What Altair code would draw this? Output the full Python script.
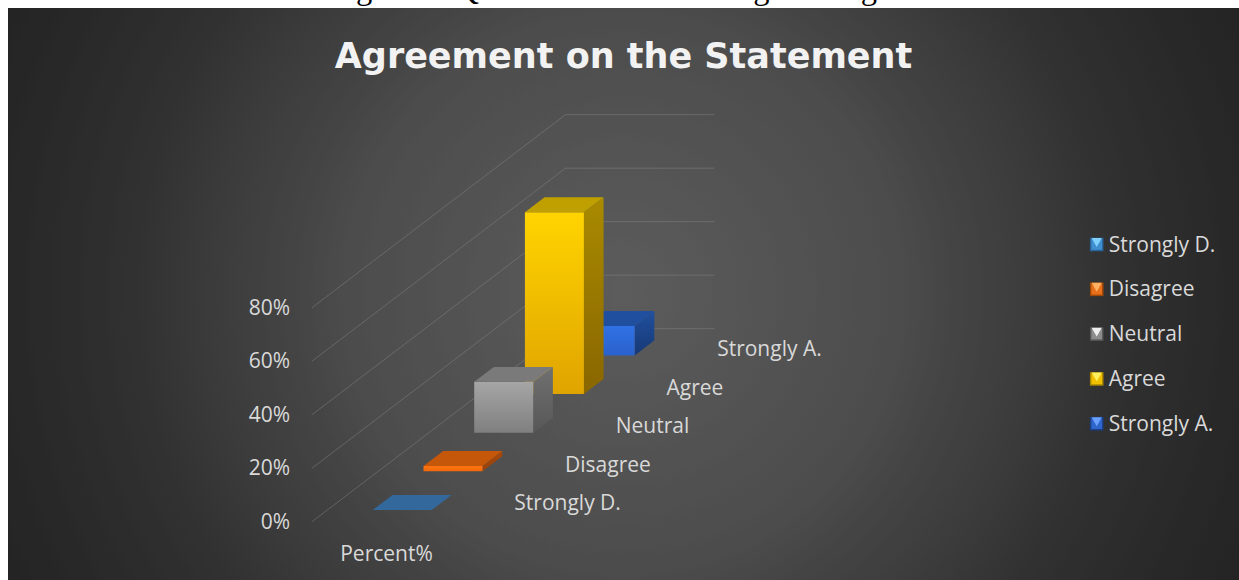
import altair as alt
import pandas as pd

W, H = 1239, 580

# Survey results
categories = ["Strongly D.", "Disagree", "Neutral", "Agree", "Strongly A."]
percent = [0, 2, 19, 68, 11]
axis_ticks = [0, 20, 40, 60, 80]

# (front top, front bottom, side top, side bottom, top face)
palette = {
    "Strongly D.": ("#3a78b4", "#2f6ca6", "#27568a", "#224d7c", "#33689c"),
    "Disagree": ("#ff7410", "#f0680c", "#a8490a", "#98420a", "#c5570b"),
    "Neutral": ("#a6a6a6", "#7f7f7f", "#707070", "#575757", "#7a7a7a"),
    "Agree": ("#ffd400", "#e0a400", "#a98a00", "#8a6600", "#c0a000"),
    "Strongly A.": ("#3071e4", "#2a62cc", "#20509f", "#173874", "#204f9f"),
}
legend_colors = {
    "Strongly D.": ("#2a6298", "#3f8fd0", "#7fd0ff"),
    "Disagree": ("#a04808", "#e8701a", "#ffb060"),
    "Neutral": ("#555555", "#8c8c8c", "#eeeeee"),
    "Agree": ("#a88600", "#f0c000", "#fff060"),
    "Strongly A.": ("#1a3f86", "#2f66cc", "#6aa0ff"),
}

# Oblique projection of the chart box onto the page
ORIGIN_X, ORIGIN_Y = 312.0, 521.7
DEPTH_DX, DEPTH_DY = 50.7, 38.6
PX_PER_PERCENT = 2.675
FLOOR_WIDTH = 149.0
BAR_U0, BAR_U1 = 45.3, 104.3
BAR_D0, BAR_D1 = 0.306, 0.694

FONT = "Open Sans"
TEXT = "#d9d9d9"
TEXT_DY = 2


def project(u, depth, value=0.0):
    return (
        ORIGIN_X + u + depth * DEPTH_DX,
        ORIGIN_Y - depth * DEPTH_DY - value * PX_PER_PERCENT,
    )


X = alt.X("x:Q", scale=alt.Scale(domain=[0, W], range=[0, W]), axis=None)
Y = alt.Y("y:Q", scale=alt.Scale(domain=[0, H], range=[0, H]), axis=None)


def vgrad(top, bottom):
    return alt.Gradient(
        gradient="linear", x1=0, y1=0, x2=0, y2=1,
        stops=[alt.GradientStop(color=top, offset=0), alt.GradientStop(color=bottom, offset=1)],
    )


def segment(points, color, width=1.0, opacity=1.0):
    df = pd.DataFrame(points, columns=["x", "y"]).reset_index()
    return alt.Chart(df).mark_line(color=color, strokeWidth=width, opacity=opacity).encode(
        x=X, y=Y, order="index:Q"
    )


def label(x, y, text, size=21, align="left", color=TEXT, weight="normal", font=FONT, baseline="middle"):
    df = pd.DataFrame({"x": [x], "y": [y], "t": [text]})
    return alt.Chart(df).mark_text(
        align=align, baseline=baseline, fontSize=size, color=color, font=font, fontWeight=weight
    ).encode(x=X, y=Y, text="t:N")


def bar_faces(cat_index, value, colors):
    """Front, side and top faces of one column, drawn as filled areas."""
    d0, d1 = cat_index + BAR_D0, cat_index + BAR_D1
    front_top, front_bottom, side_top, side_bottom, top_face = colors

    fl_b, fr_b = project(BAR_U0, d0), project(BAR_U1, d0)
    fl_t, fr_t = project(BAR_U0, d0, value), project(BAR_U1, d0, value)
    br_b, br_t = project(BAR_U1, d1), project(BAR_U1, d1, value)
    bl_t = project(BAR_U0, d1, value)

    front = pd.DataFrame({"x": [fl_t[0], fr_t[0]], "y": [fl_t[1]] * 2, "y2": [fl_b[1]] * 2})
    side = pd.DataFrame({"x": [fr_t[0], br_t[0]], "y": [fr_t[1], br_t[1]], "y2": [fr_b[1], br_b[1]]})
    top = pd.DataFrame({"y": [bl_t[1], fl_t[1]], "x": [bl_t[0], fl_t[0]], "x2": [br_t[0], fr_t[0]]})

    faces = []
    if value > 0:
        faces.append(
            alt.Chart(side).mark_area(color=vgrad(side_top, side_bottom), orient="vertical").encode(
                x=X, y=Y, y2="y2:Q"
            )
        )
        faces.append(
            alt.Chart(front).mark_area(color=vgrad(front_top, front_bottom), orient="vertical").encode(
                x=X, y=Y, y2="y2:Q"
            )
        )
    faces.append(
        alt.Chart(top).mark_area(color=top_face, orient="horizontal").encode(x=X, x2="x2:Q", y=Y)
    )
    return faces


layers = []

# Panel background: a square box keeps the radial gradient circular
PANEL_LEFT, PANEL_TOP = 8, 8
side_len = W - PANEL_LEFT
mid_y = 293
panel = pd.DataFrame({"x": [PANEL_LEFT], "x2": [W], "y": [mid_y - side_len / 2], "y2": [mid_y + side_len / 2]})
layers.append(
    alt.Chart(panel).mark_rect(
        color=alt.Gradient(
            gradient="radial", x1=0.5, y1=0.5, x2=0.5, y2=0.5, r1=0, r2=0.55,
            stops=[
                alt.GradientStop(color="#5c5c5c", offset=0),
                alt.GradientStop(color="#4c4c4c", offset=0.41),
                alt.GradientStop(color="#454545", offset=0.48),
                alt.GradientStop(color="#3a3a3a", offset=0.62),
                alt.GradientStop(color="#313131", offset=0.72),
                alt.GradientStop(color="#282828", offset=0.9),
                alt.GradientStop(color="#242424", offset=1),
            ],
        )
    ).encode(x=X, x2="x2:Q", y=Y, y2="y2:Q")
)

# Page strip above the panel, with the caption running off the top edge
strip = pd.DataFrame({"x": [0], "x2": [W], "y": [0], "y2": [PANEL_TOP]})
layers.append(alt.Chart(strip).mark_rect(color="#ffffff").encode(x=X, x2="x2:Q", y=Y, y2="y2:Q"))
layers.append(
    label(329, -1.5, "Figure 7: Question Seven Findings Histogram", size=32.5,
          color="#000000", font="Liberation Serif", baseline="alphabetic")
)

# Gridlines: floor direction, then along the back wall
for v in axis_ticks:
    layers.append(
        segment(
            [project(0, 0, v), project(0, 5, v), project(FLOOR_WIDTH, 5, v)],
            "#8a8a8a", 1.0, 0.45,
        )
    )

# Columns, painted back to front
for i in reversed(range(len(categories))):
    cat = categories[i]
    layers.extend(bar_faces(i, percent[i], palette[cat]))

# Value axis labels
for v in axis_ticks:
    x, y = project(0, 0, v)
    layers.append(label(x - 22, y - 1 + TEXT_DY, f"{v}%", align="right"))

# Category labels beside the floor
for i, cat in enumerate(categories):
    x, y = project(177, i + 0.5)
    layers.append(label(x, y + TEXT_DY, cat))

# Series axis label
x, y = project(FLOOR_WIDTH / 2, 0)
layers.append(label(x, y + 31 + TEXT_DY, "Percent%", align="center"))

# Legend
LEG_X, LEG_Y0, LEG_STEP = 1096.7, 244.5, 44.8
for i, cat in enumerate(categories):
    dark, mid, light = legend_colors[cat]
    ly = LEG_Y0 + i * LEG_STEP
    pts = pd.DataFrame({"x": [LEG_X], "y": [ly]})
    layers.append(alt.Chart(pts).mark_square(size=185, color=dark, opacity=1).encode(x=X, y=Y))
    layers.append(alt.Chart(pts).mark_square(size=115, color=mid, opacity=1).encode(x=X, y=Y))
    tri = pd.DataFrame({"x": [LEG_X], "y": [ly - 2]})
    layers.append(
        alt.Chart(tri).mark_point(shape="triangle-down", size=105, filled=True, color=light, opacity=1).encode(x=X, y=Y)
    )
    layers.append(label(LEG_X + 12, ly + 1, cat))

# Chart title
layers.append(
    label(623.5, 57, "Agreement on the Statement", size=35, align="center",
          color="#f2f2f2", weight="bold", font="DejaVu Sans")
)

chart = (
    alt.layer(*layers)
    .properties(width=W, height=H, padding=0, autosize=alt.AutoSizeParams(type="none"), background="#ffffff")
    .configure_view(stroke=None)
)

chart.save("out.html", embed_options={"renderer": "svg", "actions": False})
